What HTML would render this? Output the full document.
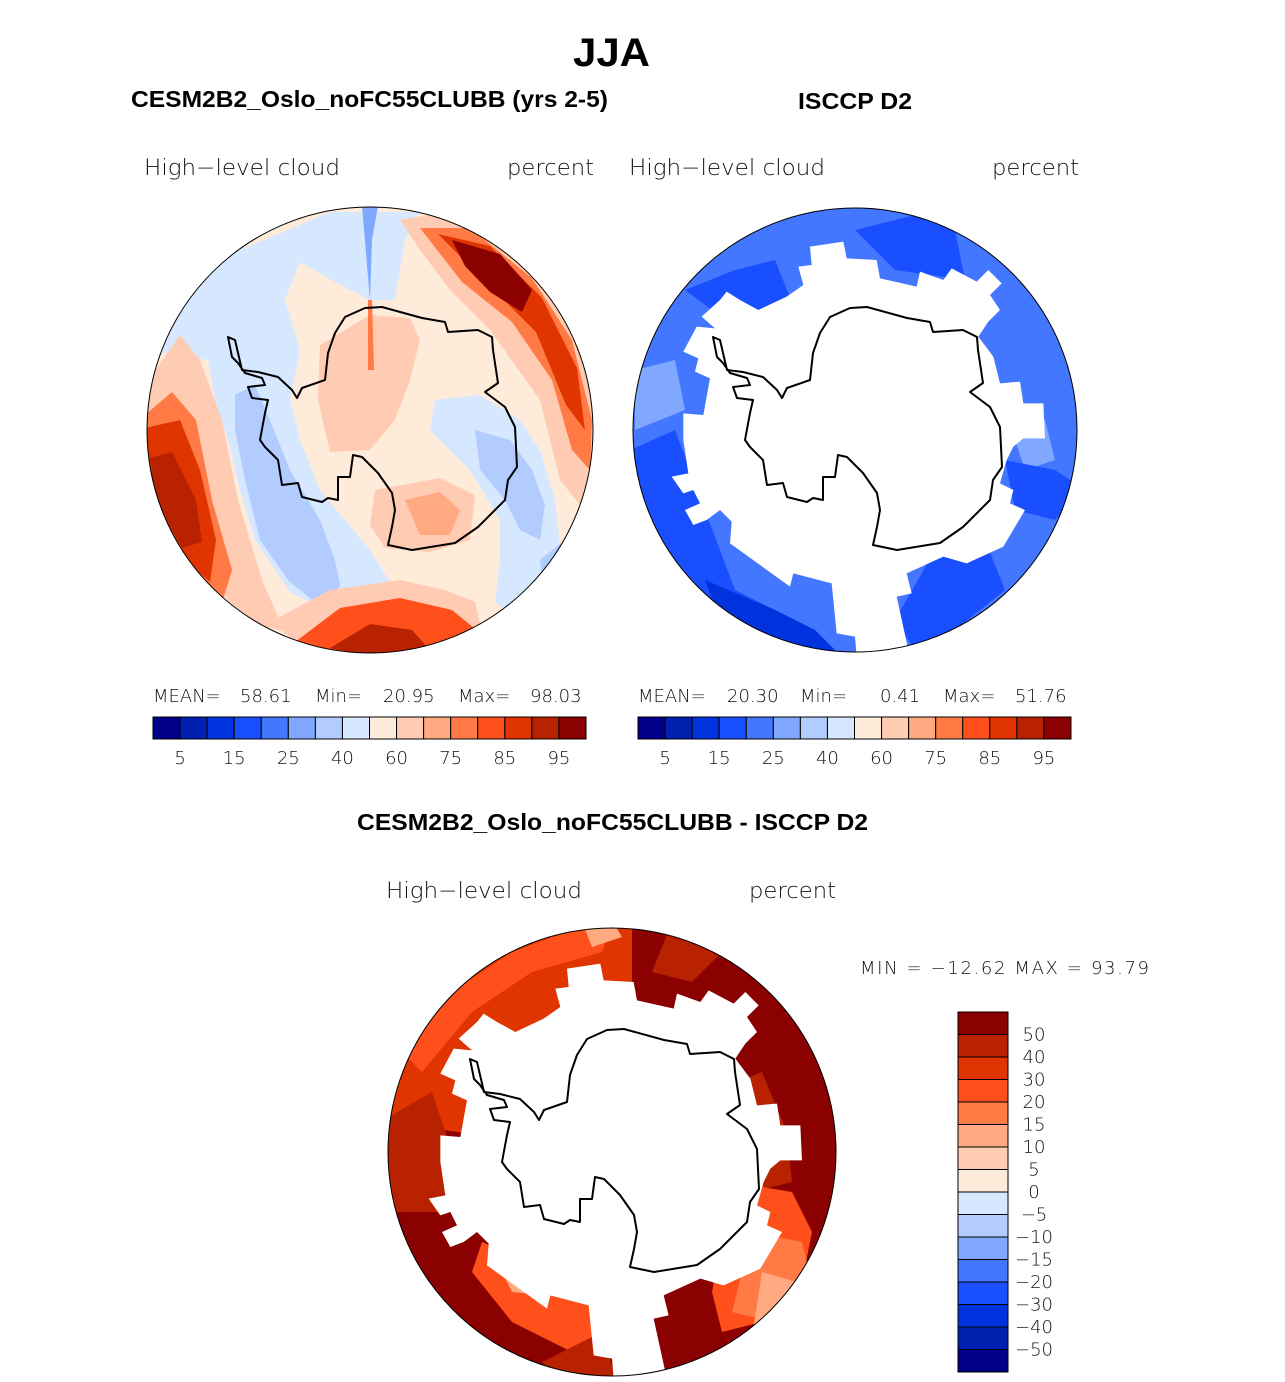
<!DOCTYPE html>
<html><head><meta charset="utf-8"><title>JJA High-level cloud</title>
<style>
html,body{margin:0;padding:0;background:#fff;}
svg{display:block;}
.t{font-family:"Liberation Sans",sans-serif;fill:#000;}
.b{font-weight:bold;}
.l{font-family:"DejaVu Sans","Liberation Sans",sans-serif;font-weight:200;fill:#111;}
</style></head>
<body>
<svg id="fig" width="1285" height="1382" viewBox="0 0 1285 1382" xmlns="http://www.w3.org/2000/svg">
<defs>
<clipPath id="c1"><circle cx="370" cy="430" r="223"/></clipPath>
<clipPath id="c2"><circle cx="855" cy="430" r="222"/></clipPath>
<clipPath id="c3"><circle cx="612" cy="1152" r="224"/></clipPath>
</defs>
<text class="t b" x="573" y="66" font-size="40" textLength="77" lengthAdjust="spacingAndGlyphs">JJA</text>
<text class="t b" x="131" y="107" font-size="23" textLength="477" lengthAdjust="spacingAndGlyphs">CESM2B2_Oslo_noFC55CLUBB (yrs 2-5)</text>
<text class="t b" x="798" y="109" font-size="23" textLength="114" lengthAdjust="spacingAndGlyphs">ISCCP D2</text>
<text class="t b" x="357" y="830" font-size="23" textLength="511" lengthAdjust="spacingAndGlyphs">CESM2B2_Oslo_noFC55CLUBB - ISCCP D2</text>

<text class="l" x="144" y="175" font-size="22" textLength="196" lengthAdjust="spacingAndGlyphs">High−level cloud</text>
<text class="l" x="507" y="175" font-size="22" textLength="87" lengthAdjust="spacingAndGlyphs">percent</text>
<text class="l" x="629" y="175" font-size="22" textLength="196" lengthAdjust="spacingAndGlyphs">High−level cloud</text>
<text class="l" x="992" y="175" font-size="22" textLength="87" lengthAdjust="spacingAndGlyphs">percent</text>
<text class="l" x="386" y="898" font-size="22" textLength="196" lengthAdjust="spacingAndGlyphs">High−level cloud</text>
<text class="l" x="749" y="898" font-size="22" textLength="87" lengthAdjust="spacingAndGlyphs">percent</text>

<g id="p1" clip-path="url(#c1)"></g>
<g id="p2" clip-path="url(#c2)"></g>
<g id="p3" clip-path="url(#c3)"></g>

<g class="l" font-size="18">
<text x="153" y="702">MEAN=</text><text x="240" y="702">58.61</text><text x="315" y="702">Min=</text><text x="383" y="702">20.95</text><text x="458" y="702">Max=</text><text x="530" y="702">98.03</text>
</g>
<g class="l" font-size="18">
<text x="638" y="702">MEAN=</text><text x="727" y="702">20.30</text><text x="800" y="702">Min=</text><text x="880" y="702">0.41</text><text x="943" y="702">Max=</text><text x="1015" y="702">51.76</text>
</g>
<text class="l" x="860" y="974" font-size="18" textLength="289" lengthAdjust="spacing">MIN  =  −12.62  MAX  =    93.79</text>

<g id="cb1"></g>
<g id="cb2"></g>
<g id="cb3"></g>
</svg>
<script>
const NS='http://www.w3.org/2000/svg';
const palette=['#00008a','#0020b0','#0033dd','#1a4fff','#4477ff','#80a8ff','#b3ccff','#d6e8ff','#ffebd9','#ffccb3','#ffaa80','#ff7a45','#ff4f1a','#e03500','#b82200','#8b0000'];
const absLevels=['5','10','15','20','25','30','40','50','60','70','75','80','85','90','95'];
const absShown=[true,false,true,false,true,false,true,false,true,false,true,false,true,false,true];
const diffLevels=['50','40','30','20','15','10','5','0','−5','−10','−15','−20','−30','−40','−50'];

function el(tag,attrs,parent){const e=document.createElementNS(NS,tag);for(const k in attrs)e.setAttribute(k,attrs[k]);parent.appendChild(e);return e;}
function poly(parent,pts,fill,ox,oy,name){const p=el('polygon',{points:pts.map((v,i)=>i%2?v+oy:v+ox).reduce((s,v,i)=>s+(i%2?','+v+' ':v),''),fill:fill},parent);

return p;}

const coast=[-25,-113,-5,-122,12,-123,52,-112,75,-108,78,-98,108,-100,122,-93,123,-80,128,-47,115,-38,135,-23,145,-3,147,37,138,50,135,70,108,97,85,113,42,120,18,115,22,97,25,80,22,63,8,43,-8,27,-17,25,-20,47,-32,47,-32,70,-42,68,-48,72,-68,67,-72,53,-88,55,-92,30,-105,17,-110,10,-105,-17,-102,-30,-118,-32,-122,-43,-105,-45,-108,-52,-125,-57,-132,-67,-138,-73,-142,-93,-135,-90,-128,-60,-112,-58,-92,-53,-78,-40,-73,-32,-68,-42,-45,-50,-42,-77,-35,-97];
const maskZ=[540,140,640,125,650,175,740,180,750,235,860,260,870,215,940,240,965,205,1040,245,1075,210,1115,250,1080,285,1110,330,1075,365,1045,410,1090,470,1110,550,1170,545,1180,610,1240,610,1245,715,1180,715,1150,740,1130,780,1110,850,1150,870,1140,910,1185,930,1120,1040,1010,1090,940,1070,830,1120,845,1180,800,1190,835,1350,680,1370,675,1310,620,1300,605,1150,490,1120,480,1160,300,1030,305,965,270,930,230,960,190,975,165,930,210,910,190,870,160,880,125,830,175,820,160,720,160,640,220,645,240,535,195,515,205,475,160,455,200,380,255,385,215,350,270,300,290,275,330,300,385,330,470,290,520,255,505,200,545,195];
const mask=maskZ.map((v,i)=>i%2? v/3-230 : v/3-225);

function drawCoast(g,cx,cy){
  const pl=el('polygon',{points:coast.map((v,i)=>i%2?v+cy:v+cx).join(' '),fill:'none',stroke:'#000','stroke-width':2,'stroke-linejoin':'round'},g);
  
  
}
function outline(cx,cy,r){const c=el('circle',{cx:cx,cy:cy,r:r,fill:'none',stroke:'#000','stroke-width':1},document.getElementById('fig'));

}

const g1=document.getElementById('p1');
el('rect',{x:140,y:200,width:460,height:460,fill:'#ffebd9'},g1);
const P=palette;
poly(g1,[150,300,240,250,330,212,420,212,405,240,395,300,370,300,340,285,300,262,285,300,300,350,290,400,300,440,320,490,345,520,370,550,395,590,380,612,330,612,290,592,255,540,240,490,228,440,215,400,208,360,150,350],P[7],0,0,'light-blue-region');
poly(g1,[150,340,170,310,210,300,215,350,180,345],P[7],0,0);
poly(g1,[235,395,255,385,270,420,290,470,320,520,335,560,340,585,330,605,312,600,288,580,260,540,245,480,235,430],P[6],0,0,'blue-band');
poly(g1,[435,400,480,395,520,420,540,450,555,500,560,545,540,585,512,615,495,602,500,560,500,520,470,470,430,430],P[7],0,0);
poly(g1,[475,430,510,440,532,470,545,505,540,540,520,530,505,500,480,470],P[6],0,0);
poly(g1,[540,560,565,540,580,560,560,600,545,605],P[6],0,0);
poly(g1,[320,345,370,315,410,318,420,340,410,380,395,420,370,450,330,452,318,400],P[9],0,0,'peach-region');
poly(g1,[375,490,440,478,475,495,470,540,430,552,385,548,370,525],P[9],0,0);
poly(g1,[405,500,440,492,460,510,450,535,420,535],P[10],0,0);
poly(g1,[400,220,445,212,505,240,565,300,595,380,595,475,580,505,560,480,540,400,490,330,450,290,420,250],P[9],0,0,'ne-high-band');
poly(g1,[420,228,470,228,532,278,572,340,592,420,590,470,572,450,552,380,512,322,462,282],P[11],0,0);
poly(g1,[438,234,490,246,542,298,577,368,585,430,566,405,536,332,490,286],P[13],0,0);
poly(g1,[452,240,500,254,532,290,522,312,490,292,465,266],P[15],0,0);
poly(g1,[145,385,180,335,200,360,222,420,238,500,262,580,285,632,250,622,200,572,145,510],P[9],0,0,'west-high-band');
poly(g1,[145,415,172,392,196,420,212,500,232,570,222,603,182,562,145,500],P[11],0,0);
poly(g1,[145,428,180,420,200,470,216,540,210,582,175,552,148,492],P[13],0,0);
poly(g1,[150,458,172,452,196,500,202,542,182,548,156,502],P[14],0,0);
poly(g1,[270,622,330,590,400,580,445,590,475,602,485,645,440,660,370,662,300,645],P[9],0,0,'south-high-band');
poly(g1,[295,642,340,608,400,598,452,610,474,628,440,650,370,662],P[12],0,0);
poly(g1,[330,648,370,624,412,630,428,648,380,660],P[14],0,0);
poly(g1,[362,206,378,206,372,240,370,300],P[5],0,0);
poly(g1,[368,300,372,300,374,370,368,370],P[11],0,0);
drawCoast(g1,370,430);
outline(370,430,223);

const g2=document.getElementById('p2');
el('circle',{cx:855,cy:430,r:230,fill:'#4477ff'},g2);
poly(g2,[-225,20,-180,0,-150,80,-120,160,-60,190,-20,230,-225,230],P[3],855,430,'dark-blue-region');
poly(g2,[-150,150,-80,180,-40,200,-10,230,-120,230],P[2],855,430);
poly(g2,[-170,-140,-120,-160,-80,-170,-60,-120,-130,-110],P[3],855,430);
poly(g2,[0,-200,60,-215,100,-200,110,-150,40,-160],P[3],855,430);
poly(g2,[80,120,130,110,150,160,100,200,60,220,40,190],P[3],855,430);
poly(g2,[-220,-60,-180,-70,-170,-20,-220,0],P[5],855,430);
poly(g2,[150,-20,190,-10,200,30,170,40],P[5],855,430);
poly(g2,[150,30,200,40,230,60,200,90,160,80],P[3],855,430);
poly(g2,mask,'#ffffff',855,430,'no-data-region');
drawCoast(g2,855,430);
outline(855,430,222);

const g3=document.getElementById('p3');
el('circle',{cx:612,cy:1152,r:232,fill:'#8b0000'},g3);
poly(g3,[0,0,-232,-30,-232,-232,20,-232,20,-150],P[13],612,1152,'orange-region');
poly(g3,[-210,-100,-160,-160,-100,-200,-40,-222,0,-228,-10,-200,-80,-180,-140,-140,-190,-80],P[12],612,1152);
poly(g3,[-30,-230,0,-232,10,-215,-20,-205],P[10],612,1152);
poly(g3,[-232,-30,-180,-60,-160,0,-170,60,-232,60],P[14],612,1152);
poly(g3,[-232,60,-170,60,-232,140],P[15],612,1152);
poly(g3,[-130,90,-60,120,0,140,5,180,-40,200,-100,170,-140,120],P[12],612,1152);
poly(g3,[-120,100,-70,125,-50,145,-100,140],P[10],612,1152);
poly(g3,[-10,180,5,230,-50,230,-70,210],P[14],612,1152);
poly(g3,[100,-60,150,-80,175,-20,180,30,140,40,110,0],P[14],612,1152);
poly(g3,[120,30,180,40,200,80,190,130,150,170,110,180,100,140],P[12],612,1152);
poly(g3,[140,80,190,90,200,130,160,170,120,160],P[11],612,1152);
poly(g3,[150,120,185,130,175,170,140,185],P[10],612,1152);
poly(g3,[60,-230,110,-200,80,-170,40,-180],P[14],612,1152);
poly(g3,[130,10,140,10,140,40,128,40],P[6],612,1152);
poly(g3,mask,'#ffffff',612,1152,'no-data-region');
drawCoast(g3,612,1152);
outline(612,1152,224);

function hbar(id,x0){
  const g=document.getElementById(id);const w=(586-153)/16;
  palette.forEach((c,i)=>{const r=el('rect',{x:x0+i*w,y:717,width:w,height:22,fill:c,stroke:'#000','stroke-width':1},g);
  
  });
  absLevels.forEach((lv,i)=>{if(!absShown[i])return;const t=el('text',{x:x0+(i+1)*w,y:764,'font-size':18,'text-anchor':'middle',class:'l'},g);t.textContent=lv;
  
  });
}
hbar('cb1',153);hbar('cb2',638);
(function(){
  const g=document.getElementById('cb3');const h=(1372-1012)/16;
  palette.slice().reverse().forEach((c,i)=>{const r=el('rect',{x:958,y:1012+i*h,width:50,height:h,fill:c,stroke:'#000','stroke-width':1},g);
  
  });
  diffLevels.forEach((lv,i)=>{const t=el('text',{x:1034,y:1012+(i+1)*h+6,'font-size':18,'text-anchor':'middle',class:'l'},g);t.textContent=lv;
  
  });
})();
</script>
</body></html>
